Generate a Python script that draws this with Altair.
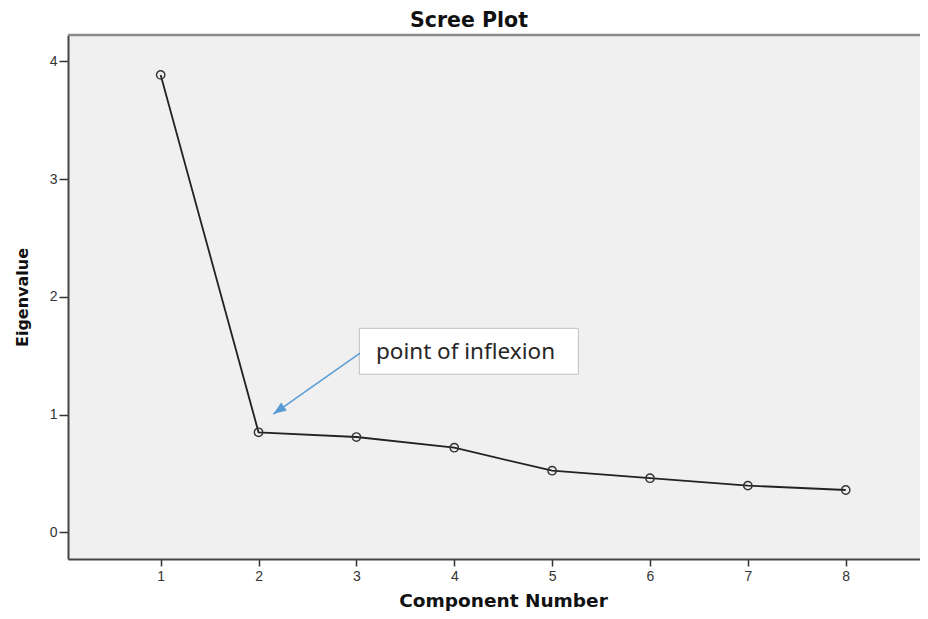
import altair as alt
import pandas as pd

# Data
components = [1, 2, 3, 4, 5, 6, 7, 8]
eigenvalues = [3.884, 0.849, 0.809, 0.718, 0.523, 0.459, 0.396, 0.359]

x_ticks = [1, 2, 3, 4, 5, 6, 7, 8]
y_ticks = [0, 1, 2, 3, 4]

# annotation (in data units)
note_text = ["point of inflexion"]
note_box_x = [3.030]
note_box_x2 = [5.268]
note_box_y = [1.342]
note_box_y2 = [1.732]
note_text_x = [3.200]
note_text_y = [1.472]
arrow_start_x = [3.037]
arrow_start_y = [1.522]
arrow_tip_x = [2.151]
arrow_tip_y = [1.004]

W, H = 852, 524

xs = alt.Scale(domain=[0.053, 8.759], nice=False, zero=False)
ys = alt.Scale(domain=[-0.227, 4.223], nice=False, zero=False)

xaxis = alt.Axis(
    values=x_ticks, title="Component Number", grid=False,
    tickSize=7, tickWidth=1.5, tickColor="#333333",
    domainColor="#444444", domainWidth=2,
    labelFont="Liberation Sans", labelFontSize=14, labelColor="#333333", labelPadding=3,
    titleFont="DejaVu Sans", titleFontSize=18.5, titleFontWeight="bold", titleColor="#111111",
    titleBaseline="alphabetic", titleY=47, titleX=435,
)
yaxis = alt.Axis(
    values=y_ticks, title="Eigenvalue", grid=False,
    tickSize=9, tickWidth=1.5, tickColor="#333333",
    domainColor="#444444", domainWidth=2,
    labelFont="Liberation Sans", labelFontSize=14, labelColor="#333333", labelPadding=2,
    titleFont="DejaVu Sans", titleFontSize=16, titleFontWeight="bold", titleColor="#111111",
    titleAngle=-90, titleBaseline="alphabetic", titleX=-41, titleY=H / 2, titleAlign="center",
)

X = lambda f="x": alt.X(f"{f}:Q", scale=xs, axis=xaxis)
Y = lambda f="y": alt.Y(f"{f}:Q", scale=ys, axis=yaxis)

main_df = pd.DataFrame({"x": components, "y": eigenvalues})
box_df = pd.DataFrame({"x": note_box_x, "x2": note_box_x2, "y": note_box_y, "y2": note_box_y2})
text_df = pd.DataFrame({"x": note_text_x, "y": note_text_y, "t": note_text})
arrow_df = pd.DataFrame({"x": arrow_start_x, "y": arrow_start_y, "x2": arrow_tip_x, "y2": arrow_tip_y})
tip_df = pd.DataFrame({"x": arrow_tip_x, "y": arrow_tip_y})
dummy = pd.DataFrame({"a": [0]})

line = alt.Chart(main_df).mark_line(color="#222222", strokeWidth=1.8).encode(x=X(), y=Y())
pts = alt.Chart(main_df).mark_point(
    filled=False, color="#333333", strokeWidth=1.4, size=70, opacity=1
).encode(x=X(), y=Y())

box = alt.Chart(box_df).mark_rect(fill="white", stroke="#c0c0c0", strokeWidth=1).encode(
    x=X(), x2="x2:Q", y=Y(), y2="y2:Q"
)
txt = alt.Chart(text_df).mark_text(
    align="left", baseline="alphabetic", font="Noto Sans", fontSize=22.5, color="#262626"
).encode(x=X(), y=Y(), text="t:N")
arrow = alt.Chart(arrow_df).mark_rule(color="#5b9bd5", strokeWidth=1.5).encode(
    x=X(), y=Y(), x2="x2:Q", y2="y2:Q"
)
head = alt.Chart(tip_df).mark_point(
    shape="M0,0L-0.75,2L0.75,2Z", filled=True, color="#5b9bd5", size=169, angle=235, opacity=1
).encode(x=X(), y=Y())

top = alt.Chart(dummy).mark_rule(color="#8a8a8a", strokeWidth=2.5).encode(
    y=alt.value(0), x=alt.value(0), x2=alt.value(W)
)

title = alt.Chart(dummy).mark_text(
    text="Scree Plot", font="DejaVu Sans", fontSize=20.5, fontWeight="bold", color="#111111",
    align="center", baseline="alphabetic",
).encode(x=alt.value(401), y=alt.value(-8))

chart = alt.layer(box, arrow, head, txt, line, pts, top, title).properties(
    width=W, height=H,
    background="white",
    autosize=alt.AutoSizeParams(type="none"),
    padding={"left": 60, "top": 27, "right": 0, "bottom": 52},
).configure_view(fill="#f0f0f0", stroke="transparent")

chart.save("out.html", embed_options={"renderer": "svg", "actions": False})
